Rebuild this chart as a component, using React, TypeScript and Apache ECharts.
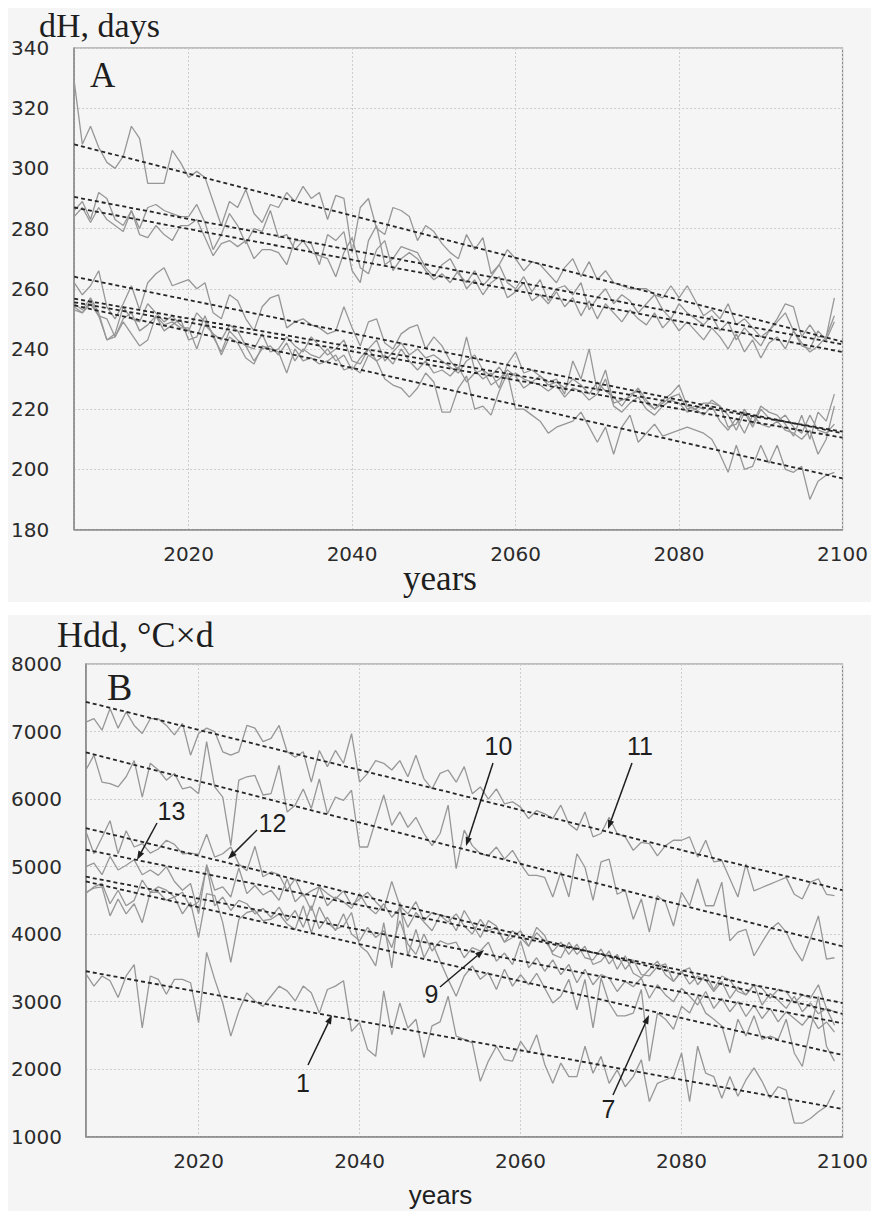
import { useEffect, useRef } from "react";
import * as echarts from "echarts";

// ---------- data ----------
const firstYear = 2006;
const lastYear = 2099;
const years: number[] = [];
for (let y = firstYear; y <= lastYear; y++) years.push(y);

// Panel A: dH, days
const dA1 = [329,308,314,307,302,300,304,314,310,295, 295,295,306,302,297,299,297,289,281,289, 287,293,285,282,288,287,292,289,294,290, 292,283,291,290,272,287,290,280,278,287, 286,284,276,281,279,275,272,270,278,273, 277,265,268,273,270,266,269,268,265,262, 267,270,264,269,263,266,262,261,260,260, 260,258,257,261,257,261,256,251,253,250, 255,248,250,247,244,246,250,255,254,244, 248,244,244,257];
const dA2 = [286,289,283,292,290,283,281,286,280,287, 288,286,285,284,284,288,282,273,278,285, 281,275,280,279,286,277,278,273,276,275, 268,278,276,279,266,262,276,281,268,270, 274,273,272,267,264,268,270,265,262,266, 261,264,268,262,260,264,259,263,256,260, 261,258,262,253,257,260,255,258,256,252, 255,258,253,250,255,252,250,248,251,246, 249,243,247,244,241,246,249,252,246,241, 240,246,243,249];
const dA3 = [284,287,282,287,283,281,279,286,278,277, 281,278,276,281,281,283,277,271,275,276, 274,276,270,273,273,272,268,276,276,272, 271,270,264,272,277,267,265,273,276,266, 270,272,270,266,263,265,262,266,260,263, 258,262,264,257,259,262,256,258,255,259, 254,257,251,256,250,255,252,249,253,250, 248,252,247,250,246,249,246,243,247,244, 240,245,239,243,237,242,244,240,246,242, 239,241,244,251];
const dA4 = [262,258,261,266,254,250,255,261,253,262, 265,267,261,262,263,260,262,252,250,258, 256,250,246,254,257,258,247,249,250,248, 247,245,246,254,247,241,249,250,242,240, 245,247,248,240,244,241,236,233,244,233, 230,232,227,235,239,232,233,231,229,230, 225,236,230,240,226,233,222,223,224,227, 223,220,223,225,228,221,220,222,222,221, 214,215,220,215,221,219,218,215,211,218, 210,219,216,225];
const dA5 = [255,253,257,252,243,245,254,250,249,255, 252,249,251,248,246,252,249,245,243,248, 246,241,240,245,239,240,244,241,239,244, 241,238,240,243,236,235,240,243,236,239, 242,238,240,237,238,236,234,232,236,238, 233,231,234,230,232,230,229,231,228,229, 227,230,228,225,229,226,224,221,225,226, 222,220,222,224,225,220,221,220,223,221, 218,213,219,214,220,217,216,218,214,212, 218,213,212,215];
const dA6 = [253,252,256,251,250,244,250,252,246,248, 251,246,248,250,243,244,251,244,239,246, 243,241,236,240,241,238,242,236,240,238, 237,240,236,238,233,237,240,236,238,235, 240,236,233,236,232,233,231,234,229,232, 233,228,230,233,231,227,229,228,226,228, 224,227,226,223,225,230,221,219,222,224, 220,218,221,223,222,219,220,218,221,216, 213,217,212,218,215,214,216,213,212,210, 213,205,210,221];
const dA7 = [254,252,255,251,243,244,249,245,241,243, 251,248,249,247,247,240,248,245,238,244, 242,237,235,241,240,239,232,240,236,237, 235,236,238,233,234,232,238,236,230,228, 227,224,227,232,229,219,219,227,231,220, 221,218,226,232,220,220,218,216,212,214, 215,216,219,214,209,214,205,214,218,209, 212,215,211,212,213,214,213,212,210,205, 199,208,200,201,208,202,208,200,199,201, 190,196,198,199];
// trend lines A: [value at 2006, value at 2100]
const trendA1 = [308, 242.4];
const trendA2 = [290.5, 241.5];
const trendA3 = [287, 239];
const trendA4 = [264, 212];
const trendA5 = [256.7, 212.5];
const trendA6 = [255.5, 210.5];
const trendA7 = [254.5, 197];

// Panel B: Hdd, °C×d (series labelled 1, 7, 9, 10, 11, 12, 13)
const dB11 = [7140,7190,7020,7340,7050,7290,7090,6970,7190,7190, 7090,6950,7120,6650,6970,7050,7000,6700,6650,6700, 7090,7050,6850,6900,7090,6700,6620,6700,6250,6720, 6480,6720,6530,6970,6250,6380,6570,6530,6430,6570, 6330,6650,6300,6150,6380,6430,6250,6480,6080,6180, 6000,6150,5930,5960,5880,5710,5830,5780,5710,5910, 5630,5540,5810,5440,5490,5730,5490,5440,5240,5360, 5340,5160,5310,5390,5390,5440,5140,5390,5070,5090, 4820,4550,5040,4640,4690,4740,4790,4840,4590,4520, 4770,4820,4590,4570];
const dB10 = [6430,6650,6250,6230,6180,6330,6570,6030,6530,6430, 6280,6380,6150,6180,6080,6850,6180,6030,5310,6280, 6330,6350,6060,6080,6500,5810,5910,6150,5860,6300, 5780,6030,5980,6130,5290,5290,5680,6060,5610,5810, 5580,5730,5490,5310,5490,5910,4970,5540,5310,5190, 5160,5290,5110,5240,5040,4870,4870,4840,4550,4920, 4550,5190,4990,4500,5070,5110,4590,4650,4220,4520, 4030,4570,4470,4120,4620,4420,4820,4420,4420,4770, 3900,4030,4070,3680,3880,4070,4170,4030,3780,3600, 3930,4270,3630,3650];
const dB13 = [5000,5050,4880,5150,4950,5020,5100,4880,4950,4870, 5000,4780,4650,4750,4300,5030,4650,4700,4550,4980, 4600,4720,4580,4650,4500,4820,4480,4600,4350,4700, 4420,4550,4480,4380,4600,4400,4300,4450,4250,4380, 4100,4320,4180,4050,4280,4250,4050,4350,4150,3950, 4200,4120,3880,3950,4050,3820,4100,3980,3700,3650, 3880,3700,3820,3550,3600,3750,3480,3680,3420,3350, 3480,3600,3400,3300,3450,3500,3250,3400,3180,3380, 3320,3150,3100,3250,3200,3050,3180,3150,2980,3100, 3050,3250,2900,2850];
const dB12 = [5520,5190,5430,5680,5190,5530,5290,5340,5200,5260, 5390,5330,5190,5200,5180,5480,5140,5190,5290,5040, 4940,5300,4850,4920,4880,4650,4820,4560,4640,4700, 4600,4520,4640,4430,4520,4620,4480,4360,4780,4420, 4300,4480,4200,4320,4280,4180,4300,4120,4000,4220, 4050,4100,3880,4050,3950,3820,4020,3900,3740,3880, 3700,3850,3650,3620,3780,3560,3700,3480,3620,3400, 3380,3520,3560,3300,3450,3260,3380,3320,3150,3300, 3050,3220,3100,3250,2950,3120,3020,2900,3080,2850, 2980,2820,2900,2650];
const dB9 = [4600,4700,4750,4450,4650,4420,4500,4800,4620,4700, 4650,4550,4620,4400,4480,5000,4420,4550,4350,4500, 4450,4300,4380,4250,4400,4200,4350,4100,4420,4080, 4250,4050,4300,4000,3900,4100,3950,4050,3800,4200, 3850,3700,4000,3750,3900,3850,3880,3650,3800,3750, 3880,3600,3720,3550,3900,3500,3650,3450,3620,3400, 3550,3280,3480,3250,3400,3350,3150,3300,3220,3350, 3050,3250,3100,3000,3200,3080,2950,3150,2900,3050, 2850,3000,2780,2950,2750,2900,2700,2850,2750,2650, 2800,2600,2700,2550];
const dB7 = [4620,4680,4700,4270,4520,4300,4450,4170,4620,4620, 4500,4550,4300,4470,3950,4600,4570,4170,3580,4220, 4320,4350,4200,4220,4300,4150,4070,4420,4020,4400, 4170,4070,4120,4320,3830,3730,3530,4170,3500,4470, 3680,4070,3650,3880,3600,3330,3080,3380,3530,3330, 3430,3180,3480,3230,3400,3250,3420,3200,2980,3080, 3330,2880,3330,2610,3350,2980,2790,2790,2830,3180, 2120,2830,2740,2590,2930,2830,3080,2830,2740,2640, 2240,2740,2490,2790,2440,2490,2440,2740,2240,2040, 2590,3080,2340,2120];
const dB1 = [3410,3230,3380,3310,3060,3380,3550,2610,3380,3330, 3110,3330,3330,3280,2690,3730,3330,2980,2490,2860, 3130,3010,2930,3080,3230,3160,3010,3230,3130,2830, 3180,3230,3310,2560,2690,2290,2190,3160,2510,2980, 2610,2740,2170,2640,2700,3080,2490,2440,2390,1820, 2120,2340,2140,2120,2410,2240,2510,2070,1790,2090, 1890,1890,2340,1940,2190,1790,1990,1740,1890,2140, 1520,1790,1840,1890,2240,1520,2340,1940,1890,1570, 1890,1600,1840,2020,1820,1570,1740,1690,1200,1200, 1270,1370,1450,1690];
const trendB11 = [7440, 4650];
const trendB10 = [6690, 3820];
const trendB13 = [5250, 2980];
const trendB12 = [5570, 2820];
const trendB9 = [4850, 2680];
const trendB7 = [4780, 2210];
const trendB1 = [3450, 1410];

// ---------- styling helpers ----------
const LINE_GRAY = "#979797";
const DASH_COLOR = "#262626";
const AXIS_GRAY = "#8a8a8a";
const TICK_FONT = "DejaVu Sans";

function dataSeries(vals: number[]) {
  return {
    type: "line",
    data: years.map((y, i) => [y, vals[i]]),
    symbol: "none",
    silent: true,
    lineStyle: { color: LINE_GRAY, width: 1.3 },
    z: 2,
  };
}
function trendSeries(t: number[]) {
  return {
    type: "line",
    data: [[2006, t[0]], [2100, t[1]]],
    symbol: "none",
    silent: true,
    lineStyle: { color: DASH_COLOR, width: 1.8, type: [4, 3] },
    z: 3,
  };
}
function txt(text: string, x: number, y: number, size: number, family: string, align = "left") {
  return {
    type: "text",
    x,
    y,
    z: 10,
    style: { text, fill: "#1e1e1e", fontSize: size, fontFamily: family, align, verticalAlign: "middle" },
  };
}
function arrow(x1: number, y1: number, x2: number, y2: number) {
  const ang = Math.atan2(y2 - y1, x2 - x1);
  const L = 9, W = 3.2;
  const bx = x2 - L * Math.cos(ang), by = y2 - L * Math.sin(ang);
  const px = -Math.sin(ang) * W, py = Math.cos(ang) * W;
  return [
    { type: "line", z: 10, shape: { x1, y1, x2: bx, y2: by }, style: { stroke: "#1e1e1e", lineWidth: 1.5 } },
    { type: "polygon", z: 10, shape: { points: [[x2, y2], [bx + px, by + py], [bx - px, by - py]] }, style: { fill: "#1e1e1e" } },
  ];
}
function baseAxes(ymin: number, ymax: number, yint: number, ylabMargin: number) {
  const split = { show: true, lineStyle: { color: "#cdcdcd", width: 1, type: [2, 2] } };
  return {
    xAxis: {
      type: "value",
      min: 2006,
      max: 2100,
      axisLine: { show: true, lineStyle: { color: AXIS_GRAY, width: 1.5 } },
      axisTick: { show: false },
      splitLine: split,
      axisLabel: {
        showMinLabel: false,
        color: "#2b2b2b",
        fontFamily: TICK_FONT,
        fontSize: 20,
        margin: 14,
        formatter: (v: number) => String(v),
      },
    },
    yAxis: {
      type: "value",
      min: ymin,
      max: ymax,
      interval: yint,
      axisLine: { show: true, lineStyle: { color: AXIS_GRAY, width: 1.5 } },
      axisTick: { show: false },
      splitLine: split,
      axisLabel: {
        color: "#2b2b2b",
        fontFamily: TICK_FONT,
        fontSize: 20,
        margin: ylabMargin,
        formatter: (v: number) => String(v),
      },
    },
  };
}

export default function App() {
  const refA = useRef<HTMLDivElement>(null);
  const refB = useRef<HTMLDivElement>(null);

  useEffect(() => {
    if (!refA.current || !refB.current) return;
    const chA = echarts.init(refA.current, null, { renderer: "svg" });
    const chB = echarts.init(refB.current, null, { renderer: "svg" });

    const optA: any = {
      animation: false,
      backgroundColor: "#f5f5f5",
      grid: { left: 62, right: 23, top: 40, bottom: 72.5, show: true, borderColor: AXIS_GRAY, borderWidth: 1.2 },
      ...baseAxes(180, 340, 20, 25),
      series: [
        ...[dA1, dA2, dA3, dA4, dA5, dA6, dA7].map(dataSeries),
        ...[trendA1, trendA2, trendA3, trendA4, trendA5, trendA6, trendA7].map(trendSeries),
      ],
      graphic: [
        txt("dH, days", 31, 17, 34, "Liberation Serif"),
        txt("A", 82, 67, 35, "Liberation Serif"),
        txt("years", 432, 570, 35, "Liberation Serif", "center"),
      ],
    };

    const optB: any = {
      animation: false,
      backgroundColor: "#f5f5f5",
      grid: { left: 77, right: 22.5, top: 49, bottom: 74.3, show: true, borderColor: AXIS_GRAY, borderWidth: 1.2 },
      ...baseAxes(1000, 8000, 1000, 24),
      series: [
        ...[dB11, dB10, dB13, dB12, dB9, dB7, dB1].map(dataSeries),
        ...[trendB11, trendB10, trendB13, trendB12, trendB9, trendB7, trendB1].map(trendSeries),
      ],
      graphic: [
        txt("Hdd, °C×d", 49, 20, 36, "Liberation Serif"),
        txt("B", 99, 72, 38, "Liberation Serif"),
        txt("years", 432.5, 580, 26, "Liberation Sans", "center"),
        txt("13", 163.5, 196, 25, "Liberation Sans", "center"),
        txt("12", 264.5, 207.5, 25, "Liberation Sans", "center"),
        txt("10", 490.5, 131, 25, "Liberation Sans", "center"),
        txt("11", 632, 131, 25, "Liberation Sans", "center"),
        txt("9", 423.5, 379, 25, "Liberation Sans", "center"),
        txt("1", 295, 467.5, 25, "Liberation Sans", "center"),
        txt("7", 600.5, 494, 25, "Liberation Sans", "center"),
        ...arrow(149, 208, 129, 245),
        ...arrow(249, 215, 220, 244),
        ...arrow(485, 148, 458, 231),
        ...arrow(624, 148, 600, 214),
        ...arrow(432, 372, 476, 335),
        ...arrow(300, 450, 324, 400),
        ...arrow(605, 480, 641, 400),
      ],
    };

    chA.setOption(optA);
    chB.setOption(optB);
    return () => {
      chA.dispose();
      chB.dispose();
    };
  }, []);

  return (
    <div style={{ width: 863 }}>
      <div ref={refA} style={{ width: 863, height: 594 }} />
      <div ref={refB} style={{ width: 863, height: 596, marginTop: 13 }} />
    </div>
  );
}
